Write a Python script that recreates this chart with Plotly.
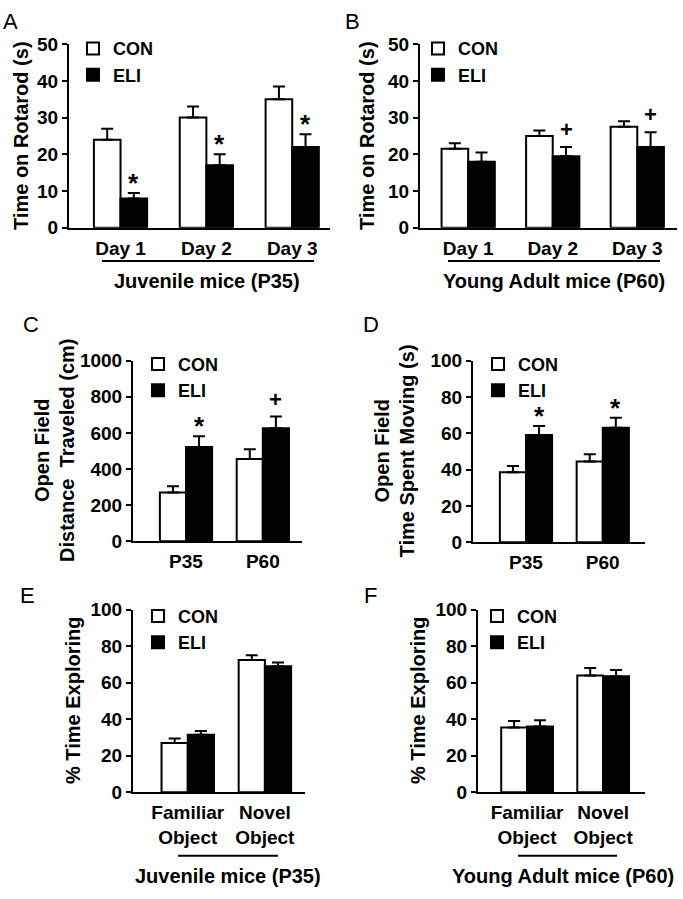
import plotly.graph_objects as go

# ---------------- data ----------------
rotarod_days = ["Day 1", "Day 2", "Day 3"]
juv_rotarod_con = [24, 30, 35]
juv_rotarod_con_err = [3, 3, 3.5]
juv_rotarod_eli = [8, 17, 22]
juv_rotarod_eli_err = [1.5, 3, 3.5]
juv_rotarod_sig = ["*", "*", "*"]

adult_rotarod_con = [21.5, 25, 27.5]
adult_rotarod_con_err = [1.5, 1.5, 1.5]
adult_rotarod_eli = [18, 19.5, 22]
adult_rotarod_eli_err = [2.5, 2.5, 4]
adult_rotarod_sig = ["", "+", "+"]

ages = ["P35", "P60"]
distance_con = [270, 455]
distance_con_err = [35, 55]
distance_eli = [522, 625]
distance_eli_err = [60, 65]
distance_sig = ["*", "+"]

moving_con = [38.5, 44.5]
moving_con_err = [3.5, 4]
moving_eli = [59, 63]
moving_eli_err = [5, 5.5]
moving_sig = ["*", "*"]

objects = ["Familiar<br>Object", "Novel<br>Object"]
nor_juv_con = [27, 72.5]
nor_juv_con_err = [2.5, 2.5]
nor_juv_eli = [31.5, 69]
nor_juv_eli_err = [2, 2]
nor_juv_sig = ["", ""]

nor_adult_con = [35.5, 64]
nor_adult_con_err = [3.5, 4]
nor_adult_eli = [36, 63.5]
nor_adult_eli_err = [3.5, 3.5]
nor_adult_sig = ["", ""]

# ---------------- layout helpers ----------------
W, H = 683, 899
FONT = "Liberation Sans, Arial, Helvetica, sans-serif"


def px(x):
    return x / W


def py(y):
    return 1 - y / H


fig = go.Figure()
layout = dict(
    width=W, height=H,
    margin=dict(l=0, r=0, t=0, b=0),
    paper_bgcolor="white", plot_bgcolor="white",
    barmode="overlay",
    font=dict(family=FONT, color="black"),
    annotations=[], shapes=[],
)

panels = [
    dict(cats=rotarod_days, con=juv_rotarod_con, conerr=juv_rotarod_con_err,
         eli=juv_rotarod_eli, elierr=juv_rotarod_eli_err, sig=juv_rotarod_sig,
         yr=[0, 50], dt=10, xp=(69, 330), yp=(35, 223), xr=[-0.6, 2.44], bw=0.31,
         title=["Time on Rotarod (s)"], tx=[21], leg=(73, 53), letter=("A", 10, 12)),
    dict(cats=rotarod_days, con=adult_rotarod_con, conerr=adult_rotarod_con_err,
         eli=adult_rotarod_eli, elierr=adult_rotarod_eli_err, sig=adult_rotarod_sig,
         yr=[0, 50], dt=10, xp=(420, 677), yp=(35, 223), xr=[-0.57, 2.47], bw=0.315,
         title=["Time on Rotarod (s)"], tx=[367], leg=(418, 53), letter=("B", 352, 12)),
    dict(cats=ages, con=distance_con, conerr=distance_con_err,
         eli=distance_eli, elierr=distance_eli_err, sig=distance_sig,
         yr=[0, 1000], dt=200, xp=(133, 302), yp=(359, 544), xr=[-0.69, 1.51], bw=0.34,
         title=["Open Field", "Distance  Traveled (cm)"], tx=[42, 67], leg=(138, 376), letter=("C", 31, 322)),
    dict(cats=ages, con=moving_con, conerr=moving_con_err,
         eli=moving_eli, elierr=moving_eli_err, sig=moving_sig,
         yr=[0, 100], dt=20, xp=(473, 645), yp=(359, 545), xr=[-0.69, 1.55], bw=0.34,
         title=["Open Field", "Time Spent Moving (s)"], tx=[382, 407], leg=(478, 376), letter=("D", 371, 322)),
    dict(cats=objects, con=nor_juv_con, conerr=nor_juv_con_err,
         eli=nor_juv_eli, elierr=nor_juv_eli_err, sig=nor_juv_sig,
         yr=[0, 100], dt=20, xp=(133, 305), yp=(614, 801), xr=[-0.71, 1.52], bw=0.34,
         title=["% Time Exploring"], tx=[73], leg=(138, 634), letter=("E", 27, 599)),
    dict(cats=objects, con=nor_adult_con, conerr=nor_adult_con_err,
         eli=nor_adult_eli, elierr=nor_adult_eli_err, sig=nor_adult_sig,
         yr=[0, 100], dt=20, xp=(478, 645), yp=(614, 801), xr=[-0.645, 1.55], bw=0.34,
         title=["% Time Exploring"], tx=[418], leg=(477, 634), letter=("F", 370, 599)),
]

SIG_STYLE = {"*": dict(size=26, yshift=-7), "+": dict(size=22, yshift=3)}

for i, p in enumerate(panels):
    n = i + 1
    sfx = "" if n == 1 else str(n)
    xa, ya = "x" + sfx, "y" + sfx
    leg = "legend" + sfx
    bw = p["bw"]
    zeros = [0] * len(p["cats"])

    fig.add_trace(go.Bar(
        x=p["cats"], y=p["con"], name="CON", width=bw, offset=-bw,
        marker=dict(color="white", line=dict(color="black", width=2)),
        error_y=dict(type="data", symmetric=False, array=p["conerr"], arrayminus=zeros,
                     color="black", thickness=2, width=6),
        xaxis=xa, yaxis=ya, legend=leg, showlegend=True,
    ))
    fig.add_trace(go.Bar(
        x=p["cats"], y=p["eli"], name="ELI", width=bw, offset=0,
        marker=dict(color="black", line=dict(color="black", width=2)),
        error_y=dict(type="data", symmetric=False, array=p["elierr"], arrayminus=zeros,
                     color="black", thickness=2, width=6),
        xaxis=xa, yaxis=ya, legend=leg, showlegend=True,
    ))

    x0, x1 = p["xp"]
    y0, y1 = p["yp"]
    layout["xaxis" + sfx] = dict(
        domain=[px(x0), px(x1)], anchor=ya, range=p["xr"], type="category",
        showline=True, linecolor="black", linewidth=2, showgrid=False, zeroline=False,
        ticks="outside", ticklen=2, tickcolor="rgba(0,0,0,0)",
        tickfont=dict(family=FONT, size=19, color="black", weight="bold"),
        fixedrange=True,
    )
    layout["yaxis" + sfx] = dict(
        domain=[py(y1), py(y0)], anchor=xa, range=p["yr"], dtick=p["dt"], tick0=0,
        showline=True, linecolor="black", linewidth=2, showgrid=False, zeroline=False,
        ticks="outside", ticklen=5, tickwidth=2, tickcolor="black",
        tickfont=dict(family=FONT, size=19, color="black", weight="bold"),
        fixedrange=True,
    )
    lx, ly = p["leg"]
    layout[leg] = dict(
        x=px(lx), y=py(ly), xanchor="left", yanchor="middle",
        bgcolor="rgba(0,0,0,0)", borderwidth=0, tracegroupgap=0,
        font=dict(family=FONT, size=18, color="black", weight="bold"),
    )

    # y-axis title(s)
    ymid = (y0 + y1) / 2
    for line, tx in zip(p["title"], p["tx"]):
        layout["annotations"].append(dict(
            text=line, x=px(tx), y=py(ymid), xref="paper", yref="paper",
            textangle=-90, showarrow=False, xanchor="center", yanchor="middle",
            font=dict(family=FONT, size=20, color="black", weight="bold"),
        ))

    # significance marks above ELI error bars
    for k, (c, v, e, s) in enumerate(zip(p["cats"], p["eli"], p["elierr"], p["sig"])):
        if s:
            st = SIG_STYLE[s]
            layout["annotations"].append(dict(
                text=s, x=k + bw / 2, y=v + e, xref=xa, yref=ya,
                showarrow=False, xanchor="center", yanchor="bottom", yshift=st["yshift"],
                font=dict(family=FONT, size=st["size"], color="black", weight="bold"),
            ))

    # panel letter
    lt, ltx, lty = p["letter"]
    layout["annotations"].append(dict(
        text=lt, x=px(ltx), y=py(lty), xref="paper", yref="paper",
        showarrow=False, xanchor="center", yanchor="middle",
        font=dict(family=FONT, size=22, color="black"),
    ))

# group brackets and labels
brackets = [
    ((102, 314, 257), ("Juvenile mice (P35)", 207, 277)),
    ((448, 660, 257), ("Young Adult mice (P60)", 554, 277)),
    ((178, 278, 866), ("Juvenile mice (P35)", 228, 887)),
    ((518, 617, 866), ("Young Adult mice (P60)", 563, 887)),
]
for (bx0, bx1, by), (txt, tx, ty) in brackets:
    layout["shapes"].append(dict(
        type="line", xref="paper", yref="paper",
        x0=px(bx0), x1=px(bx1), y0=py(by), y1=py(by),
        line=dict(color="black", width=2),
    ))
    layout["annotations"].append(dict(
        text=txt, x=px(tx), y=py(ty), xref="paper", yref="paper",
        showarrow=False, xanchor="center", yanchor="middle",
        font=dict(family=FONT, size=20, color="black", weight="bold"),
    ))

fig.update_layout(**layout)
# remove the default page margin so the figure fills the 683x899 window exactly
fig.write_html(
    "out.html",
    config={"displayModeBar": False},
    post_script="document.body.style.margin='0';document.body.style.overflow='hidden';",
)
